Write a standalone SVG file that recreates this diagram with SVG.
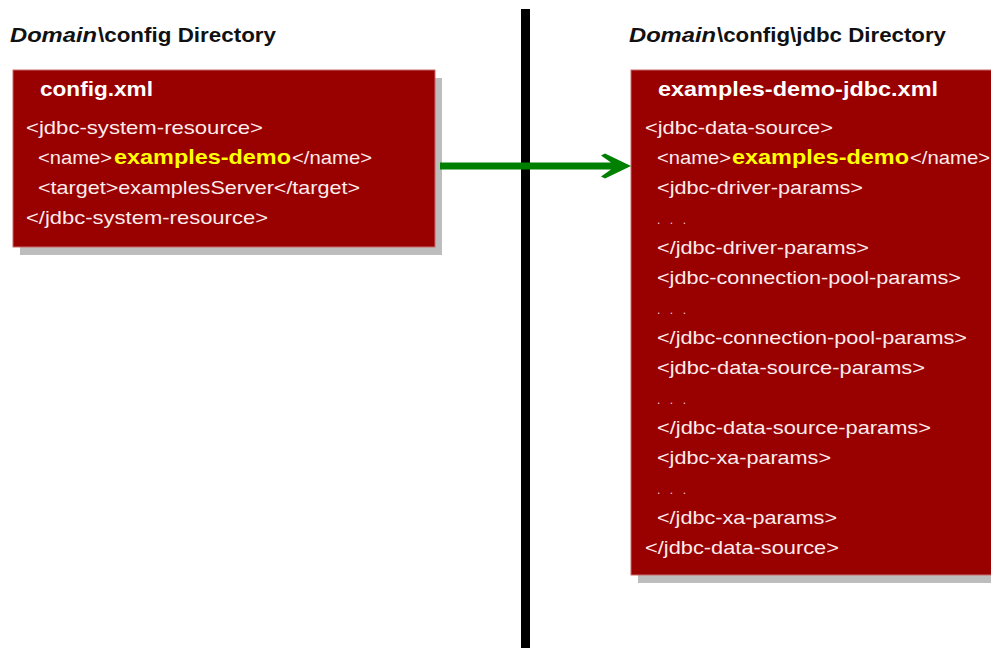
<svg xmlns="http://www.w3.org/2000/svg" width="991" height="648" viewBox="0 0 991 648">
<style>
text{font-family:"Liberation Sans",Arial,sans-serif;white-space:pre}
.b{fill:#990000;stroke:#c96a6a;stroke-width:1}
.s{fill:#bdbdbd}
.h{font-size:21px;font-weight:bold;fill:#111}
.i{font-style:italic}
.t{font-size:21px;font-weight:bold;fill:#fff}
.c{font-size:19px;fill:#fbecec}
.d{font-size:12px;fill:#f4d0d0}
.y{font-size:21px;font-weight:bold;fill:#ff0}
</style>
<rect width="991" height="648" fill="#fff"/>
<g id="divider"><rect x="521" y="9" width="9" height="639" fill="#000"/></g>
<g id="heading-left"><text class="h i" x="10" y="42" textLength="87" lengthAdjust="spacingAndGlyphs">Domain</text><text class="h" x="98" y="42" textLength="178" lengthAdjust="spacingAndGlyphs">\config Directory</text></g>
<g id="heading-right"><text class="h i" x="629" y="42" textLength="87" lengthAdjust="spacingAndGlyphs">Domain</text><text class="h" x="717" y="42" textLength="229" lengthAdjust="spacingAndGlyphs">\config\jdbc Directory</text></g>
<g id="config-xml">
<rect class="s" x="20" y="78" width="422" height="177"/>
<rect class="b" x="13" y="70" width="422" height="177"/>
<text class="t" x="40" y="96" textLength="113" lengthAdjust="spacingAndGlyphs">config.xml</text>
<text class="c" x="26" y="134" textLength="237" lengthAdjust="spacingAndGlyphs">&lt;jdbc-system-resource&gt;</text>
<text class="c" x="38" y="164" textLength="74" lengthAdjust="spacingAndGlyphs">&lt;name&gt;</text><text class="y" x="114" y="164" textLength="177" lengthAdjust="spacingAndGlyphs">examples-demo</text><text class="c" x="292" y="164" textLength="80" lengthAdjust="spacingAndGlyphs">&lt;/name&gt;</text>
<text class="c" x="38" y="194" textLength="322" lengthAdjust="spacingAndGlyphs">&lt;target&gt;examplesServer&lt;/target&gt;</text>
<text class="c" x="26" y="224" textLength="242" lengthAdjust="spacingAndGlyphs">&lt;/jdbc-system-resource&gt;</text>
</g>
<g id="examples-demo-jdbc-xml">
<rect class="s" x="638" y="78" width="360" height="505"/>
<rect class="b" x="631" y="70" width="370" height="505"/>
<text class="t" x="658" y="96" textLength="280" lengthAdjust="spacingAndGlyphs">examples-demo-jdbc.xml</text>
<text class="c" x="645" y="134" textLength="188" lengthAdjust="spacingAndGlyphs">&lt;jdbc-data-source&gt;</text>
<text class="c" x="657" y="164" textLength="74" lengthAdjust="spacingAndGlyphs">&lt;name&gt;</text><text class="y" x="732" y="164" textLength="177" lengthAdjust="spacingAndGlyphs">examples-demo</text><text class="c" x="910" y="164" textLength="80" lengthAdjust="spacingAndGlyphs">&lt;/name&gt;</text>
<text class="c" x="657" y="194" textLength="206" lengthAdjust="spacingAndGlyphs">&lt;jdbc-driver-params&gt;</text>
<text class="d" x="657" y="224" textLength="29">. . .</text>
<text class="c" x="657" y="254" textLength="212" lengthAdjust="spacingAndGlyphs">&lt;/jdbc-driver-params&gt;</text>
<text class="c" x="657" y="284" textLength="304" lengthAdjust="spacingAndGlyphs">&lt;jdbc-connection-pool-params&gt;</text>
<text class="d" x="657" y="314" textLength="29">. . .</text>
<text class="c" x="657" y="344" textLength="310" lengthAdjust="spacingAndGlyphs">&lt;/jdbc-connection-pool-params&gt;</text>
<text class="c" x="657" y="374" textLength="268" lengthAdjust="spacingAndGlyphs">&lt;jdbc-data-source-params&gt;</text>
<text class="d" x="657" y="404" textLength="29">. . .</text>
<text class="c" x="657" y="434" textLength="274" lengthAdjust="spacingAndGlyphs">&lt;/jdbc-data-source-params&gt;</text>
<text class="c" x="657" y="464" textLength="174" lengthAdjust="spacingAndGlyphs">&lt;jdbc-xa-params&gt;</text>
<text class="d" x="657" y="494" textLength="29">. . .</text>
<text class="c" x="657" y="524" textLength="180" lengthAdjust="spacingAndGlyphs">&lt;/jdbc-xa-params&gt;</text>
<text class="c" x="645" y="554" textLength="194" lengthAdjust="spacingAndGlyphs">&lt;/jdbc-data-source&gt;</text>
</g>
<g id="connectors"><path d="M440 162.500H611L601 155.500L605 153.500L631 166L605 178.500L601 176.500L611 169.500H440Z" fill="#008000"/></g>
</svg>
